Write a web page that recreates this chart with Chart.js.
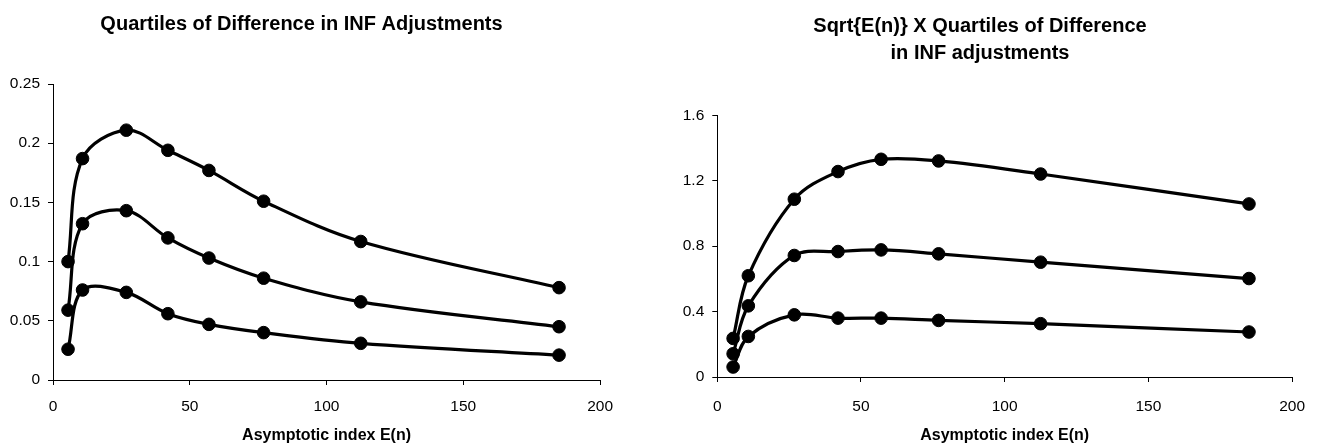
<!DOCTYPE html>
<html>
  <head>
    <title>Quartiles of Difference in INF Adjustments</title>
    <script src="https://cdn.jsdelivr.net/npm/chart.js"></script>
    <style>
      body { margin: 0; background: #fff; }
      #wrap { position: relative; width: 1320px; height: 446px; }
      #wrap canvas { position: absolute; top: 0; }
    </style>
  </head>
  <body>
    <div id="wrap">
      <canvas id="leftChart" width="625" height="446" style="left:0"></canvas>
      <canvas id="rightChart" width="654" height="446" style="left:666px"></canvas>
    </div>

    <script>
      // asymptotic index E(n) for each point
      const eIndex = [5.5, 10.8, 26.8, 42, 57, 77, 112.5, 185];

      // left panel: quartiles of difference
      const diffUpper = [0.100, 0.187, 0.211, 0.194, 0.177, 0.151, 0.117, 0.078];
      const diffMedian = [0.059, 0.132, 0.143, 0.120, 0.103, 0.086, 0.066, 0.045];
      const diffLower = [0.026, 0.076, 0.074, 0.056, 0.047, 0.040, 0.031, 0.021];

      // right panel: sqrt(E(n)) x quartiles
      const scaledUpper = [0.236, 0.619, 1.087, 1.256, 1.331, 1.321, 1.241, 1.058];
      const scaledMedian = [0.142, 0.435, 0.743, 0.767, 0.777, 0.753, 0.702, 0.602];
      const scaledLower = [0.061, 0.248, 0.380, 0.360, 0.360, 0.346, 0.326, 0.275];

      // tick labels
      const xTicks = [0, 50, 100, 150, 200];
      const leftYTicks = [0, 0.05, 0.1, 0.15, 0.2, 0.25];
      const rightYTicks = [0, 0.4, 0.8, 1.2, 1.6];

      Chart.defaults.font.family = "'Liberation Sans', Arial, sans-serif";
      Chart.defaults.color = '#000';

      function serie(ys) {
        return {
          data: eIndex.map((x, i) => ({ x: x, y: ys[i] })),
          borderColor: '#000',
          borderWidth: 3.2,
          backgroundColor: '#000',
          pointRadius: 6.3,
          pointBorderWidth: 1,
          pointBackgroundColor: '#000',
          tension: 0.35,
          clip: false
        };
      }

      function desenhar(id, titulo, series, yTicks, p) {
        const ctx = document.getElementById(id).getContext('2d');
        return new Chart(ctx, {
          type: 'line',
          data: { datasets: series.map(serie) },
          options: {
            responsive: false,
            animation: false,
            layout: { padding: { left: 0, right: p.right, top: 0, bottom: 0 } },
            plugins: {
              legend: { display: false },
              tooltip: { enabled: false },
              title: {
                display: true,
                text: titulo,
                color: '#000',
                font: { size: 20, weight: 'bold', lineHeight: 1.35 },
                padding: { top: p.titleTop, bottom: p.titleBottom }
              }
            },
            scales: {
              x: {
                type: 'linear',
                min: 0,
                max: 200,
                afterBuildTicks: (s) => { s.ticks = xTicks.map(v => ({ value: v })); },
                afterFit: (s) => { s.height = p.xHeight; },
                grid: { drawOnChartArea: false, color: '#000', tickLength: 5, lineWidth: 1 },
                border: { color: '#000', width: 1 },
                ticks: { font: { size: 15.5 }, padding: p.xTickPad, maxRotation: 0, callback: v => String(v) },
                title: {
                  display: true,
                  text: 'Asymptotic index E(n)',
                  font: { size: 16, weight: 'bold' },
                  padding: { top: 0, bottom: 1 }
                }
              },
              y: {
                type: 'linear',
                min: 0,
                max: yTicks[yTicks.length - 1],
                afterBuildTicks: (s) => { s.ticks = yTicks.map(v => ({ value: v })); },
                afterFit: (s) => { s.width = p.yWidth; },
                grid: { drawOnChartArea: false, color: '#000', tickLength: 5, lineWidth: 1 },
                border: { color: '#000', width: 1 },
                ticks: { font: { size: 15.5 }, padding: 8, callback: v => String(v) }
              }
            }
          }
        });
      }

      desenhar('leftChart', 'Quartiles of Difference in INF Adjustments',
        [diffUpper, diffMedian, diffLower], leftYTicks,
        { right: 22, titleTop: 10.5, titleBottom: 46.5, xHeight: 66, xTickPad: 12, yWidth: 53 });

      desenhar('rightChart', ['Sqrt{E(n)} X Quartiles of Difference', 'in INF adjustments'],
        [scaledUpper, scaledMedian, scaledLower], rightYTicks,
        { right: 26, titleTop: 12.5, titleBottom: 48.8, xHeight: 69, xTickPad: 15, yWidth: 51.3 });
    </script>
  </body>
</html>
